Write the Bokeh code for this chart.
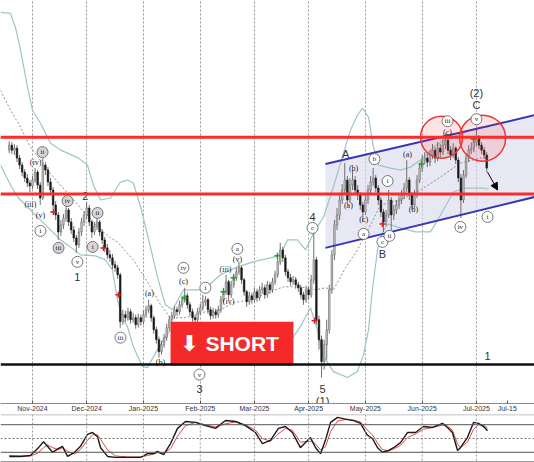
from bokeh.plotting import figure
from bokeh.models import Range1d, FixedTicker, Span, ColumnDataSource, Arrow, NormalHead
from bokeh.layouts import column
from bokeh.embed import file_html
from bokeh.resources import INLINE
from bokeh.core.properties import value

# ---------------- data (bar index = trading day, price in chart units) ----------------
first_bar = 3
first_open = 250
close = [255, 250, 252, 242, 235, 228, 222, 217, 214, 220,
         228, 215, 202, 235, 230, 218, 210, 195, 185, 168,
         175, 182, 190, 178, 170, 162, 155, 168, 178, 185,
         192, 178, 168, 174, 178, 168, 160, 152, 145, 142,
         135, 132, 125, 78, 85, 82, 88, 80, 82, 75,
         82, 78, 85, 90, 94, 82, 70, 60, 48, 55,
         62, 72, 80, 84, 90, 88, 95, 100, 104, 95,
         88, 82, 80, 88, 92, 98, 100, 90, 84, 88,
         85, 90, 100, 108, 118, 105, 115, 122, 128, 132,
         120, 108, 98, 104, 100, 108, 102, 110, 112, 105,
         115, 110, 118, 125, 138, 150, 142, 128, 122, 118,
         120, 115, 112, 105, 100, 110, 105, 120, 140, 80,
         60, 38, 55, 70, 110, 145, 175, 185, 200, 210,
         220, 200, 215, 220, 210, 205, 195, 188, 200, 210,
         218, 222, 212, 200, 188, 178, 185, 200, 185, 190,
         195, 200, 205, 212, 220, 205, 195, 205, 220, 232,
         240, 242, 238, 245, 250, 242, 252, 248, 255, 260,
         250, 245, 252, 240, 222, 200, 225, 242, 250, 252,
         258, 262, 255, 250, 245, 232]
high = [259, 258, 256, 255, 245, 238, 231, 226, 220, 224,
        232, 230, 218, 242, 238, 233, 222, 213, 199, 188,
        180, 186, 195, 192, 182, 174, 165, 172, 182, 189,
        198, 195, 180, 178, 182, 180, 171, 163, 156, 150,
        146, 139, 135, 127, 90, 89, 92, 91, 87, 85,
        86, 85, 89, 94, 100, 96, 84, 73, 63, 59,
        66, 76, 84, 88, 94, 93, 99, 104, 112, 107,
        98, 91, 85, 92, 96, 105, 104, 102, 93, 92,
        91, 94, 104, 112, 125, 120, 119, 126, 132, 138,
        134, 122, 110, 108, 107, 112, 111, 114, 117, 115,
        119, 118, 122, 129, 142, 157, 153, 145, 131, 126,
        124, 123, 118, 115, 108, 114, 113, 125, 167, 143,
        84, 64, 60, 80, 115, 150, 180, 192, 206, 216,
        237, 224, 222, 230, 224, 215, 208, 198, 205, 215,
        224, 232, 225, 215, 203, 191, 190, 210, 203, 195,
        200, 205, 210, 217, 240, 223, 208, 210, 225, 237,
        245, 248, 246, 250, 256, 253, 258, 256, 261, 267,
        262, 254, 257, 254, 243, 226, 230, 247, 255, 258,
        263, 272, 265, 258, 253, 248]
low = [247, 246, 245, 238, 231, 224, 218, 213, 208, 211,
       217, 211, 195, 200, 225, 214, 205, 191, 180, 160,
       164, 171, 178, 174, 166, 158, 147, 152, 164, 174,
       181, 174, 162, 165, 170, 164, 156, 148, 141, 138,
       131, 128, 121, 72, 75, 78, 79, 76, 77, 71,
       72, 74, 75, 82, 87, 78, 66, 56, 42, 45,
       52, 59, 69, 77, 81, 84, 85, 92, 97, 91,
       84, 78, 74, 77, 85, 89, 94, 86, 80, 81,
       81, 82, 87, 97, 105, 100, 102, 112, 119, 125,
       116, 104, 93, 95, 96, 97, 98, 99, 106, 101,
       102, 106, 107, 115, 122, 135, 138, 124, 118, 114,
       115, 111, 108, 101, 95, 97, 100, 102, 116, 75,
       50, 22, 30, 40, 66, 106, 140, 170, 180, 196,
       205, 195, 197, 210, 205, 200, 190, 178, 185, 196,
       206, 214, 208, 195, 183, 168, 174, 182, 170, 180,
       186, 191, 196, 201, 208, 200, 190, 192, 202, 217,
       228, 236, 233, 234, 241, 237, 239, 243, 245, 251,
       246, 240, 242, 236, 218, 182, 197, 222, 238, 246,
       248, 254, 251, 246, 241, 228]

month_ticks = [12, 33, 55, 77, 98, 119, 141, 163, 184]
month_labels = ["Nov-2024", "Dec-2024", "Jan-2025", "Feb-2025", "Mar-2025",
                "Apr-2025", "May-2025", "Jun-2025", "Jul-2025"]
extra_tick = 196
extra_label = "Jul-15"

resistance_levels = [263, 206]
support_level = 35

channel_x = [125.5, 206.5]
channel_upper = [236, 285]
channel_lower = [152, 203]

bb_upper_x = [-0.4, 3.5, 5.4, 7.4, 10.1, 12, 15.1, 19, 22.9, 25.6, 29.8, 33.3, 35.6, 38.4,
              42.2, 46.1, 48.8, 51.1, 53.9, 57.7, 60.4, 63.5, 66.3, 70.5, 78.3, 84.9, 91.4,
              97.6, 104.2, 108.1, 110.8, 114.7, 117.8, 120.9, 124.8, 128.6, 132.5, 135.2,
              137.9, 139.9, 142.2, 144.1, 146.1, 150.7, 154.6, 158.5, 162.3, 167.4, 171.3,
              177.1, 181.7, 185.6, 188.7]
bb_upper = [388, 387, 373, 350, 313, 290, 277, 257, 250, 247, 242, 235, 215, 200,
            202, 218, 220, 217, 193, 153, 123, 95, 90, 110, 110, 125, 133,
            138, 142, 145, 160, 160, 150, 167, 183, 213, 247, 270,
            285, 292, 283, 253, 235, 232, 230, 233, 240, 253, 260,
            265, 270, 273, 273]
bb_lower_x = [-0.4, 3.5, 6.2, 11.2, 17, 22.9, 25.6, 30.6, 36.4, 40.3, 43, 44.9, 46.9, 48.8,
              51.1, 54.6, 56.6, 58.9, 62.8, 65.5, 71.3, 77.1, 88.7, 100.3, 113.1, 115.8,
              119.7, 122.4, 124.4, 128.6, 134.1, 137.9, 140.3, 142.2, 143.7, 145.7, 147.6,
              149.6, 154.6, 160.4, 166.2, 170.1, 175.1, 179.8, 186.8, 188.7]
bb_lower = [235, 215, 203, 190, 175, 160, 155, 145, 144, 140, 130, 100, 82, 73,
            53, 33, 32, 43, 60, 70, 67, 64, 64, 67, 63, 73,
            92, 70, 45, 28, 22, 28, 45, 70, 110, 150, 167,
            176, 172, 168, 168, 185, 208, 212, 212, 211]
bb_mid_x = [-0.4, 3.5, 7.4, 11.2, 15.1, 17.8, 25.6, 30.6, 37.2, 42.2, 44.9, 51.1, 57.7,
            61.6, 65.5, 71.3, 77.1, 84.9, 89.9, 96.5, 103.1, 109.3, 115.8, 121.7, 125.5,
            128.6, 133.3, 137.9, 143, 146.8, 154.6, 162.3, 170.1, 177.8, 185.6, 188.7]
bb_mid = [310, 290, 273, 253, 240, 230, 207, 192, 173, 162, 158, 140, 113,
          95, 82, 82, 87, 90, 97, 100, 107, 113, 113, 110, 112,
          110, 132, 150, 175, 195, 200, 210, 223, 237, 242, 243]

stoch_x = [3, 7.4, 11.2, 14, 16.3, 17.8, 19.8, 22, 23.6, 25.6, 28.3, 30.6, 33.3, 35.3, 37.2,
           38.4, 41.1, 44.2, 48.8, 53.9, 56.6, 58.9, 60.4, 62.8, 65.5, 68.2, 71.3, 75.2, 79,
           82.9, 86.8, 90.7, 94.5, 98.4, 101.1, 104.2, 107.3, 110, 112.7, 115.8, 119.7, 121.7,
           123.6, 125.5, 127.5, 130.2, 134.1, 136.4, 139.1, 141.8, 143.7, 145.7, 147.6, 150,
           151.9, 154.6, 157.3, 160.4, 163.5, 167, 170.9, 172.8, 174.7, 176.7, 177.8, 180.5,
           182.9, 184.8, 186.8, 188.3]
stoch_k = [11, 11, 13, 28, 43, 33, 20, 28, 33, 11, 20, 33, 59, 63, 54,
           30, 11, 9, 9, 9, 17, 17, 22, 15, 39, 72, 87, 85, 78,
           72, 89, 87, 78, 63, 39, 46, 72, 76, 63, 30, 52, 30,
           17, 46, 85, 96, 91, 89, 83, 57, 50, 30, 20, 24,
           30, 41, 63, 63, 76, 74, 83, 74, 63, 24, 30, 52,
           85, 83, 76, 67]
stoch_d = [13, 12, 12, 18, 30, 36, 30, 26, 30, 22, 16, 26, 46, 58, 58,
           48, 25, 12, 10, 10, 13, 16, 19, 18, 28, 55, 78, 85, 80,
           75, 82, 86, 80, 68, 50, 44, 60, 72, 68, 42, 44, 38,
           25, 32, 65, 88, 92, 90, 86, 68, 58, 40, 26, 23,
           27, 35, 52, 60, 70, 74, 79, 77, 68, 38, 30, 42,
           70, 80, 79, 72]
stoch_levels = [80, 20]
stoch_mid = 50

sell_x = [20.1, 39.5, 45.3, 121.3, 147.6]
sell_y = [188, 152, 105, 79, 176]
buy_x = [70.9, 86, 89.9, 106.9, 162.7, 182.9]
buy_y = [102, 108, 122, 144, 236, 261]

wave_text = ["1", "2", "3", "4", "5", "(1)", "A", "B", "C", "(2)", "1"]
wave_x = [29.4, 32.5, 76.7, 120.5, 124.4, 124.4, 133.3, 147.6, 184, 184, 188.3]
wave_y = [123, 204, 11, 183, 11, -1, 246, 146, 295, 307, 44]

sub_text = ["(iii)", "(iv)", "(v)", "(a)", "(b)", "(c)", "(iii)", "(iv)", "(v)",
            "(b)", "(a)", "(c)", "(a)", "(b)", "(c)"]
sub_x = [11.2, 13.2, 15.1, 57.3, 61.6, 70.5, 86.8, 88, 91.4, 136.4, 134.4, 140.3, 157.3, 159.6, 172.8]
sub_y = [195, 238, 184, 106, 37, 118, 130, 98, 140, 232, 194, 180, 246, 190, 268]

minor_text = ["ii", "i", "iv", "iii", "v", "ii", "i", "iii", "iv", "i", "a", "v", "c",
              "b", "a", "c", "i", "ii", "iii", "iv", "v", "i"]
minor_x = [15.9, 15.1, 25.6, 22.1, 29.4, 37.2, 35.3, 46.1, 70.5, 79, 91.4, 76.7, 120.5,
           144.5, 140.3, 147.6, 149.6, 150.3, 172.8, 177.8, 184, 188.3]
minor_y = [248, 169, 199, 152, 138, 187, 153, 62, 132, 112, 151, 25, 172,
           241, 166, 158, 219, 164, 279, 173, 281, 183]
minor_shade = [1, 0, 1, 1, 0, 1, 1, 0, 0, 0, 0, 0, 0,
               0, 0, 0, 0, 0, 0, 0, 0, 0]

focus_x = [170.5, 186.4]
focus_y = [263, 262]

# ---------------- build ----------------
n = len(close)
xs = [first_bar + k for k in range(n)]
opens = [first_open] + close[:-1]
up = [c >= o for o, c in zip(opens, close)]

src_up = ColumnDataSource(dict(
    x=[x for x, u in zip(xs, up) if u],
    top=[max(o, c) for o, c, u in zip(opens, close, up) if u],
    bottom=[min(o, c) for o, c, u in zip(opens, close, up) if u]))
src_dn = ColumnDataSource(dict(
    x=[x for x, u in zip(xs, up) if not u],
    top=[max(o, c) for o, c, u in zip(opens, close, up) if not u],
    bottom=[min(o, c) for o, c, u in zip(opens, close, up) if not u]))

X0, X1 = -0.387, 206.51

p = figure(width=534, height=414, x_range=Range1d(X0, X1), y_range=Range1d(-4, 400),
           output_backend="svg", toolbar_location=None, y_axis_location=None,
           min_border_left=0, min_border_right=0, min_border_top=0, min_border_bottom=10,
           title=None)
p.outline_line_color = None
p.background_fill_color = "white"
p.border_fill_color = "white"
p.ygrid.visible = False
p.xgrid.ticker = FixedTicker(ticks=month_ticks)
p.xgrid.grid_line_color = "#9a9a9a"
p.xgrid.grid_line_dash = "2 2"
p.xgrid.grid_line_width = 1

ax = p.xaxis[0]
ax.ticker = FixedTicker(ticks=month_ticks + [extra_tick])
ax.major_label_overrides = {**{t: l for t, l in zip(month_ticks, month_labels)}, extra_tick: extra_label}
ax.major_label_text_font = "Liberation Sans"
ax.major_label_text_font_size = "7px"
ax.major_label_text_color = "#333333"
ax.major_label_standoff = 1
ax.major_tick_in = 3
ax.major_tick_out = 0
ax.minor_tick_in = 0
ax.minor_tick_out = 0
ax.axis_line_color = "#8a8a8a"
ax.major_tick_line_color = "#555555"

# channel
p.patch([channel_x[0], channel_x[1], channel_x[1], channel_x[0]],
        [channel_upper[0], channel_upper[1], channel_lower[1], channel_lower[0]],
        fill_color="#dcdcf0", fill_alpha=0.65, line_color=None)

# bands
p.line(bb_upper_x, bb_upper, line_color="#9cc5c9", line_width=1.2)
p.line(bb_lower_x, bb_lower, line_color="#9cc5c9", line_width=1.2)
p.line(bb_mid_x, bb_mid, line_color="#8c8c8c", line_width=1, line_dash="2 2")

# candles
p.segment(xs, high, xs, low, line_color="#6e6e6e", line_width=1)
p.vbar(x="x", width=0.62, top="top", bottom="bottom", source=src_up,
       fill_color="#c4c4c4", line_color="#6e6e6e", line_width=0.6)
p.vbar(x="x", width=0.62, top="top", bottom="bottom", source=src_dn,
       fill_color="#1a1a1a", line_color="#1a1a1a", line_width=0.6)

# levels
for lv in resistance_levels:
    p.add_layout(Span(location=lv, dimension="width", line_color="#ff2a2a", line_width=3))
p.add_layout(Span(location=support_level, dimension="width", line_color="#111111", line_width=2.5))

# channel borders
p.line(channel_x, channel_upper, line_color="#3535b5", line_width=2)
p.line(channel_x, channel_lower, line_color="#3535b5", line_width=2)

# signals
p.scatter(sell_x, sell_y, marker="cross", size=6, line_color="#d42020", line_width=1.5)
p.scatter(buy_x, buy_y, marker="cross", size=6, line_color="#23a023", line_width=1.5)

# focus circles
p.scatter(focus_x, focus_y, marker="circle", size=[42, 46], fill_color="#ff3030",
          fill_alpha=0.13, line_color="#f03434", line_width=1.5)

# arrow
p.add_layout(Arrow(end=NormalHead(size=7, fill_color="black", line_color="black"),
                   x_start=188.3, y_start=228, x_end=192.2, y_end=210,
                   line_color="black", line_width=1))

# wave labels
p.scatter(minor_x, minor_y, marker="circle", size=11,
          fill_color=["#d6d6d6" if s else "white" for s in minor_shade],
          line_color="#555555", line_width=0.8)
p.text(minor_x, minor_y, text=minor_text, text_font=value("Liberation Serif"),
       text_font_size="7px", text_color="#222222", text_align="center", text_baseline="middle")
p.text(sub_x, sub_y, text=sub_text, text_font=value("Liberation Serif"),
       text_font_size="8px", text_color="#222222", text_align="center", text_baseline="middle")
p.text(wave_x, wave_y, text=wave_text, text_font=value("Liberation Sans"),
       text_font_size="11px", text_color="#333333", text_align="center", text_baseline="middle")

# SHORT badge
p.quad(left=[65.5], right=[113.1], top=[78], bottom=[34], fill_color="#f42a2a", line_color=None)
p.text([72.8], [56], text=["\u2b07"], text_font=value("DejaVu Sans"), text_font_size="22px",
       text_color="white", text_align="center", text_baseline="middle", text_font_style="bold")
p.text([79], [56], text=["SHORT"], text_font=value("Liberation Sans"), text_font_size="21px",
       text_color="white", text_align="left", text_baseline="middle", text_font_style="bold")

# ---------------- oscillator ----------------
q = figure(width=534, height=48, x_range=p.x_range, y_range=Range1d(-2.2, 102.2),
           output_backend="svg", toolbar_location=None, x_axis_location=None, y_axis_location=None,
           min_border_left=0, min_border_right=0, min_border_top=0, min_border_bottom=0,
           title=None)
q.outline_line_color = None
q.xgrid.visible = False
q.ygrid.visible = False
for t in month_ticks:
    q.add_layout(Span(location=t, dimension="height", line_color="#9a9a9a", line_dash="2 2", line_width=1))
q.add_layout(Span(location=101.7, dimension="width", line_color="#9a9a9a", line_width=1))
q.add_layout(Span(location=0, dimension="width", line_color="#9a9a9a", line_width=1))
for lv in stoch_levels:
    q.add_layout(Span(location=lv, dimension="width", line_color="#555555", line_width=1))
q.add_layout(Span(location=stoch_mid, dimension="width", line_color="#777777", line_width=1, line_dash="2 2"))
q.line(stoch_x, stoch_d, line_color="#e04848", line_width=1)
q.line(stoch_x, stoch_k, line_color="#1a1a1a", line_width=1.4)

layout = column(p, q)
open("out.html", "w").write(file_html(layout, INLINE))
